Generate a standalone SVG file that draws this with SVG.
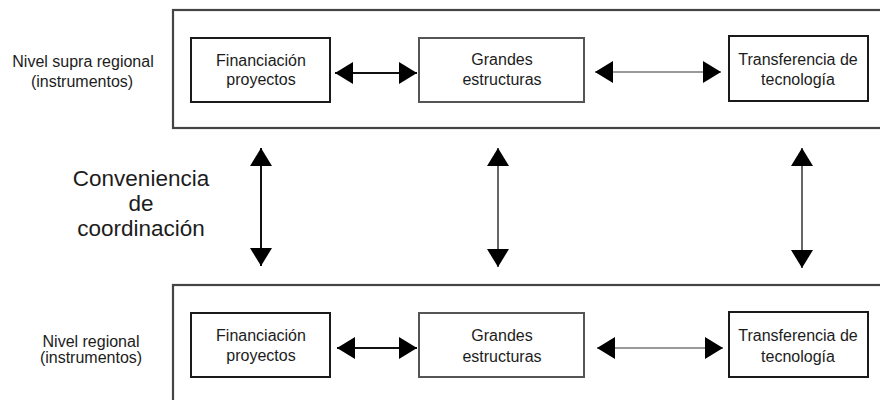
<svg xmlns="http://www.w3.org/2000/svg" width="880" height="400" viewBox="0 0 880 400">
  <style>
    text { font-family: "Liberation Sans", Arial, sans-serif; fill: #1c1c1c; text-anchor: middle; }
    .lbl { font-size: 16px; }
    .big { font-size: 22.5px; }
    .outer { fill: none; stroke: #444; stroke-width: 2.2; }
    .inner { fill: #fff; stroke: #1a1a1a; stroke-width: 2; }
    .inner-g { fill: #fff; stroke: #555; stroke-width: 2; }
    .ar { fill: none; stroke: #111; stroke-width: 2; marker-start: url(#ah); marker-end: url(#ah); }
    .ar-g { fill: none; stroke: #666; stroke-width: 2; marker-start: url(#ah); marker-end: url(#ah); }
    .ar-l { fill: none; stroke: #777; stroke-width: 1.5; marker-start: url(#ah); marker-end: url(#ah); }
  </style>
  <defs>
    <marker id="ah" markerUnits="userSpaceOnUse" markerWidth="18" markerHeight="22" refX="18" refY="11" orient="auto-start-reverse">
      <path d="M0,0 L18,11 L0,22 z" fill="#000"/>
    </marker>
  </defs>
  <rect width="880" height="400" fill="#fff"/>

  <g id="level-supra">
    <rect class="outer" x="173" y="10" width="730" height="118"/>
    <text class="lbl" x="83" y="67">Nivel supra regional</text>
    <text class="lbl" x="82" y="87">(instrumentos)</text>
  </g>
  <g id="level-regional">
    <rect class="outer" x="173" y="285" width="730" height="150"/>
    <text class="lbl" x="91" y="347">Nivel regional</text>
    <text class="lbl" x="91" y="363">(instrumentos)</text>
  </g>

  <g id="supra-financiacion">
    <rect class="inner" x="191" y="38" width="139" height="64"/>
    <text class="lbl" x="261" y="66">Financiación</text>
    <text class="lbl" x="261" y="85">proyectos</text>
  </g>
  <g id="supra-grandes">
    <rect class="inner-g" x="419" y="38" width="165" height="64"/>
    <text class="lbl" x="502" y="65">Grandes</text>
    <text class="lbl" x="502" y="85">estructuras</text>
  </g>
  <g id="supra-transferencia">
    <rect class="inner" x="729" y="36" width="139" height="65"/>
    <text class="lbl" x="798" y="65">Transferencia de</text>
    <text class="lbl" x="798" y="85">tecnología</text>
  </g>

  <g id="reg-financiacion">
    <rect class="inner" x="191" y="313" width="139" height="64"/>
    <text class="lbl" x="261" y="341">Financiación</text>
    <text class="lbl" x="261" y="361">proyectos</text>
  </g>
  <g id="reg-grandes">
    <rect class="inner-g" x="419" y="313" width="165" height="64"/>
    <text class="lbl" x="502" y="341">Grandes</text>
    <text class="lbl" x="502" y="362">estructuras</text>
  </g>
  <g id="reg-transferencia">
    <rect class="inner" x="729" y="312" width="139" height="65"/>
    <text class="lbl" x="798" y="341">Transferencia de</text>
    <text class="lbl" x="798" y="362">tecnología</text>
  </g>

  <g id="coordinacion-label">
    <text class="big" x="141" y="186">Conveniencia</text>
    <text class="big" x="141" y="211">de</text>
    <text class="big" x="141" y="236">coordinación</text>
  </g>

  <g id="connectors">
    <line class="ar" x1="335" y1="73" x2="417" y2="73"/>
    <line class="ar-l" x1="595" y1="72" x2="721" y2="72"/>
    <line class="ar" x1="337" y1="348" x2="417" y2="348"/>
    <line class="ar-l" x1="597" y1="348" x2="723" y2="348"/>
    <line class="ar" x1="261" y1="148" x2="261" y2="266"/>
    <line class="ar-g" x1="498" y1="148" x2="498" y2="267"/>
    <line class="ar-g" x1="802" y1="148" x2="802" y2="268"/>
  </g>
</svg>
